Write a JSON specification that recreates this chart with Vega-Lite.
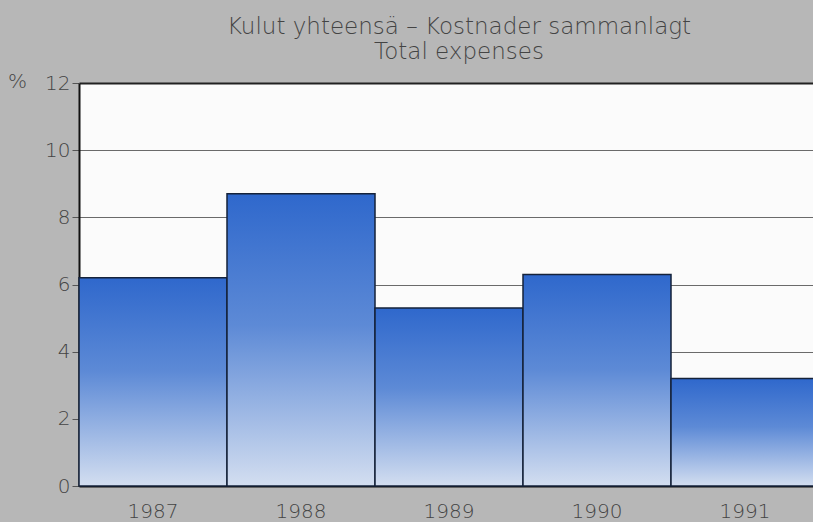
{
  "$schema": "https://vega.github.io/schema/vega-lite/v6.json",
  "autosize": "none",
  "width": 734,
  "height": 403,
  "padding": {"left": 79, "top": 83, "right": 0, "bottom": 36},
  "background": "#b7b7b7",
  "title": {
    "text": ["Kulut yhteensä – Kostnader sammanlagt", "Total expenses"],
    "font": "DejaVu Sans",
    "fontWeight": 200,
    "fontSize": 23,
    "lineHeight": 25,
    "color": "#444444",
    "anchor": "middle",
    "dx": 13,
    "offset": 7
  },
  "config": {
    "view": {"fill": "#fbfbfb", "stroke": null},
    "font": "DejaVu Sans"
  },
  "data": {
    "values": [
      {"year": "1987", "value": 6.2},
      {"year": "1988", "value": 8.7},
      {"year": "1989", "value": 5.3},
      {"year": "1990", "value": 6.3},
      {"year": "1991", "value": 3.2}
    ]
  },
  "mark": {
    "type": "bar",
    "stroke": "#15223a",
    "strokeWidth": 1.5,
    "color": {
      "gradient": "linear",
      "x1": 0, "y1": 0, "x2": 0, "y2": 1,
      "stops": [
        {"offset": 0, "color": "#2f68cc"},
        {"offset": 0.45, "color": "#5d8ad6"},
        {"offset": 1, "color": "#d3def0"}
      ]
    }
  },
  "encoding": {
    "x": {
      "field": "year",
      "type": "nominal",
      "scale": {"paddingInner": 0, "paddingOuter": 0, "range": [0, 740]},
      "axis": {
        "title": null,
        "labelAngle": 0,
        "labelFontSize": 20,
        "labelFontWeight": 200,
        "labelColor": "#444444",
        "labelPadding": 15,
        "ticks": false,
        "domainColor": "#111",
        "domainWidth": 2
      }
    },
    "y": {
      "field": "value",
      "type": "quantitative",
      "scale": {"domain": [0, 12]},
      "axis": {
        "title": "%",
        "titleAngle": 0,
        "titleX": -62,
        "titleY": 8,
        "titleFontSize": 20,
        "titleFontWeight": 200,
        "titleColor": "#444444",
        "values": [0, 2, 4, 6, 8, 10, 12],
        "labelFontSize": 20,
        "labelFontWeight": 200,
        "labelColor": "#444444",
        "labelPadding": 2,
        "tickSize": 7,
        "tickColor": "#555",
        "domainColor": "#111",
        "domainWidth": 2,
        "grid": true,
        "gridColor": {"condition": {"test": "datum.value === 12", "value": "#222"}, "value": "#6a6a6a"},
        "gridWidth": {"condition": {"test": "datum.value === 12", "value": 2}, "value": 1}
      }
    }
  }
}
